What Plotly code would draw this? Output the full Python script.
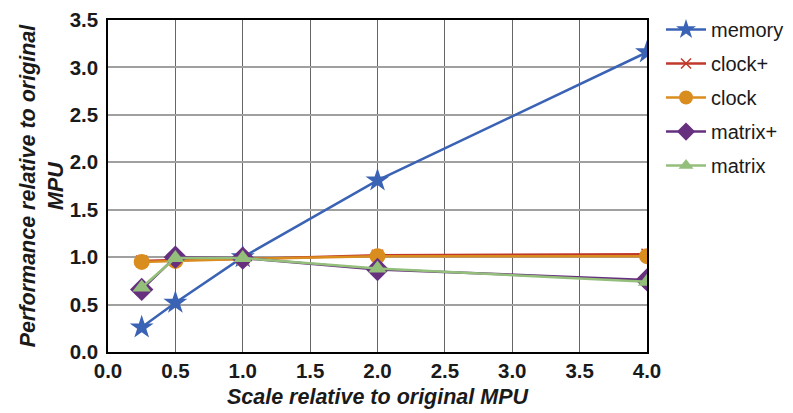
import plotly.graph_objects as go

x_scale = [0.25, 0.5, 1.0, 2.0, 4.0]
memory = [0.26, 0.52, 1.00, 1.81, 3.16]
clock_plus = [0.96, 0.97, 0.98, 1.02, 1.03]
clock = [0.95, 0.96, 0.98, 1.01, 1.01]
matrix_plus = [0.66, 1.00, 0.99, 0.87, 0.76]
matrix = [0.68, 0.99, 0.99, 0.88, 0.74]

# name, values, colour, symbol, plot marker size, legend marker size
series = [
    ("memory", memory, "#3B63B5", "star", 18, 15),
    ("clock+", clock_plus, "#C0392B", "x-thin", 11, 10),
    ("clock", clock, "#DA8D1F", "circle", 16, 14),
    ("matrix+", matrix_plus, "#66307F", "diamond", 18, 14),
    ("matrix", matrix, "#93BF7B", "triangle-up", 16, 13),
]

fig = go.Figure()
for i, (name, vals, color, sym, size, lsize) in enumerate(series):
    mline = dict(color=color, width=1.5 if sym == "x-thin" else 0)
    fig.add_trace(go.Scatter(
        x=x_scale, y=vals, name=name, mode="lines+markers", legendgroup=f"g{i}",
        showlegend=False,
        line=dict(color=color, width=2.5),
        marker=dict(symbol=sym, size=size, color=color, line=mline),
    ))
    # legend entry (no data drawn)
    fig.add_trace(go.Scatter(
        x=[None], y=[None], name=name, mode="lines+markers", legendgroup=f"g{i}",
        showlegend=True,
        line=dict(color=color, width=2.5),
        marker=dict(symbol=sym, size=lsize, color=color, line=mline),
    ))

font_family = "Liberation Sans, Arial, sans-serif"
# page body has an 8px default margin; figure is sized so the plot area lands where the reference has it
fig.update_layout(
    width=785, height=405,
    margin=dict(l=100, r=146, t=12, b=61, autoexpand=False),
    plot_bgcolor="white", paper_bgcolor="white",
    font=dict(family=font_family, color="#1a1a1a"),
    showlegend=True,
    legend=dict(x=1.026, y=1.03, xanchor="left", yanchor="top",
                font=dict(size=20, family=font_family, color="#1a1a1a"),
                tracegroupgap=5, itemwidth=40,
                bgcolor="rgba(0,0,0,0)"),
    xaxis=dict(
        range=[0, 4], dtick=0.5, tickformat=".1f",
        showgrid=True, gridcolor="#666666", gridwidth=1,
        showline=True, linecolor="black", linewidth=1.5, mirror=True,
        zeroline=False, ticks="", automargin=False,
        tickfont=dict(size=20.5, family=font_family, weight="bold", color="#1a1a1a"),
        title=dict(text="<b><i>Scale relative to original MPU</i></b>",
                   font=dict(size=21.5, family=font_family), standoff=8),
    ),
    yaxis=dict(
        range=[0, 3.5], dtick=0.5, tickformat=".1f",
        showgrid=True, gridcolor="#a0a0a0", gridwidth=1.5,
        showline=True, linecolor="black", linewidth=1.5, mirror=True,
        zeroline=False, ticks="", automargin=False, ticklabelstandoff=4,
        tickfont=dict(size=20.5, family=font_family, weight="bold", color="#1a1a1a"),
        title=dict(text="<b><i>Performance relative to original<br>MPU</i></b>",
                   font=dict(size=21.5, family=font_family), standoff=0),
    ),
)

fig.write_html("out.html")
